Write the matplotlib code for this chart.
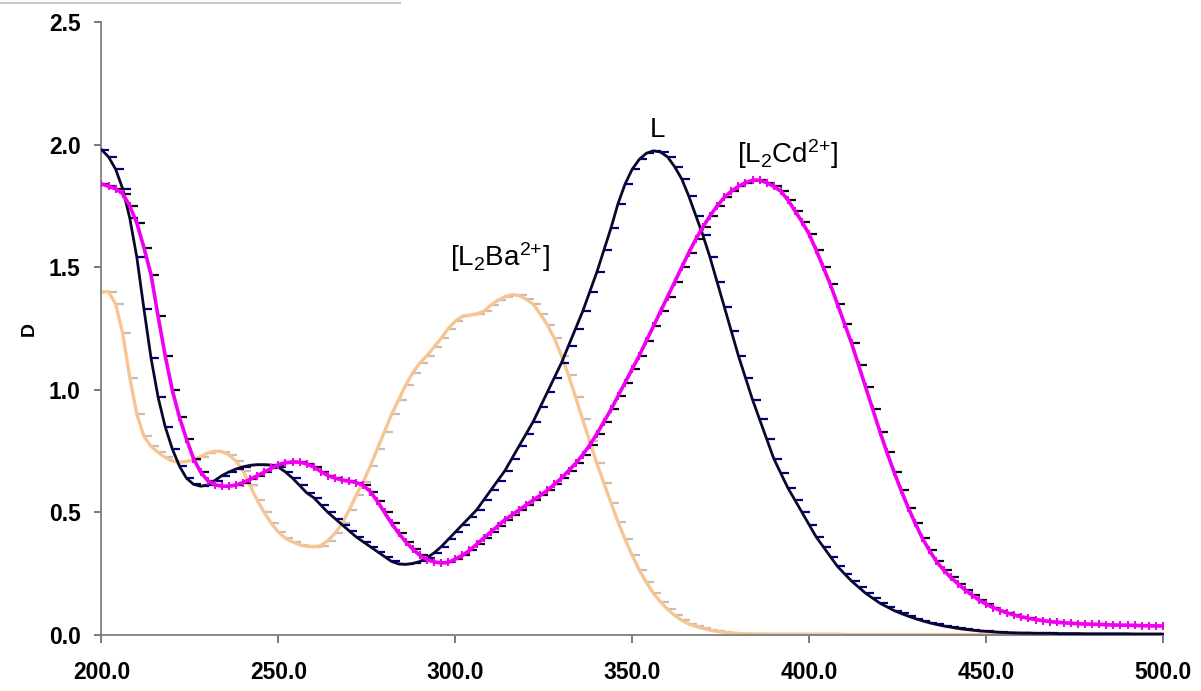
import matplotlib
matplotlib.use("Agg")
import matplotlib.pyplot as plt
import matplotlib.lines as mlines
from matplotlib.path import Path
import numpy as np

plt.rcParams['font.family'] = ['Liberation Sans', 'DejaVu Sans']
plt.rcParams['mathtext.default'] = 'regular'

# wavelength grid (nm), 2 nm steps
wavelength = list(range(200, 502, 2))

# L
absorb_L = [
    1.98, 1.95, 1.90, 1.82, 1.70, 1.54, 1.33, 1.13, 0.97, 0.85,    # 200-218
    0.76, 0.69, 0.64, 0.615, 0.607, 0.612, 0.63, 0.65, 0.665, 0.677,  # 220-238
    0.686, 0.692, 0.695, 0.695, 0.693, 0.685, 0.665, 0.64, 0.61, 0.58,  # 240-258
    0.56, 0.53, 0.50, 0.475, 0.45, 0.425, 0.40, 0.38, 0.36, 0.34,   # 260-278
    0.32, 0.30, 0.29, 0.288, 0.292, 0.30, 0.315, 0.335, 0.36, 0.39,  # 280-298
    0.42, 0.45, 0.48, 0.51, 0.55, 0.59, 0.63, 0.67, 0.72, 0.77,     # 300-318
    0.82, 0.87, 0.93, 0.99, 1.05, 1.11, 1.18, 1.25, 1.32, 1.40,     # 320-338
    1.48, 1.57, 1.66, 1.76, 1.84, 1.90, 1.94, 1.965, 1.975, 1.97,   # 340-358
    1.95, 1.91, 1.86, 1.79, 1.71, 1.63, 1.54, 1.44, 1.34, 1.24,     # 360-378
    1.14, 1.05, 0.96, 0.88, 0.80, 0.72, 0.66, 0.60, 0.55, 0.50,     # 380-398
    0.45, 0.40, 0.36, 0.32, 0.28, 0.25, 0.22, 0.195, 0.17, 0.15,    # 400-418
    0.13, 0.115, 0.10, 0.088, 0.077, 0.067, 0.058, 0.05, 0.043, 0.037,  # 420-438
    0.032, 0.027, 0.023, 0.02, 0.017, 0.015, 0.013, 0.011, 0.010, 0.009,  # 440-458
    0.008, 0.008, 0.007, 0.007, 0.007, 0.006, 0.006, 0.006, 0.006, 0.005,  # 460-478
    0.005, 0.005, 0.005, 0.005, 0.005, 0.005, 0.004, 0.004, 0.004, 0.004,  # 480-498
    0.004,                                                          # 500
]

# [L2Cd2+]
absorb_Cd = [
    1.84, 1.83, 1.82, 1.80, 1.75, 1.68, 1.58, 1.47, 1.30, 1.14,     # 200-218
    1.00, 0.89, 0.80, 0.72, 0.665, 0.63, 0.613, 0.607, 0.607, 0.612,  # 220-238
    0.622, 0.635, 0.65, 0.665, 0.68, 0.695, 0.703, 0.706, 0.705, 0.698,  # 240-258
    0.685, 0.667, 0.65, 0.64, 0.632, 0.627, 0.622, 0.61, 0.585, 0.545,  # 260-278
    0.50, 0.455, 0.415, 0.38, 0.35, 0.325, 0.308, 0.298, 0.294, 0.296,  # 280-298
    0.31, 0.325, 0.345, 0.37, 0.395, 0.42, 0.445, 0.47, 0.49, 0.51,  # 300-318
    0.53, 0.55, 0.57, 0.59, 0.615, 0.64, 0.67, 0.70, 0.735, 0.775,  # 320-338
    0.82, 0.87, 0.92, 0.975, 1.03, 1.085, 1.14, 1.20, 1.26, 1.32,   # 340-358
    1.38, 1.44, 1.50, 1.56, 1.615, 1.665, 1.71, 1.75, 1.785, 1.81,  # 360-378
    1.83, 1.845, 1.855, 1.855, 1.845, 1.83, 1.81, 1.775, 1.73, 1.685,  # 380-398
    1.635, 1.57, 1.50, 1.43, 1.35, 1.27, 1.19, 1.10, 1.01, 0.92,    # 400-418
    0.83, 0.745, 0.665, 0.59, 0.52, 0.455, 0.395, 0.345, 0.30, 0.265,  # 420-438
    0.235, 0.21, 0.185, 0.163, 0.143, 0.126, 0.112, 0.10, 0.09, 0.081,  # 440-458
    0.074, 0.068, 0.063, 0.059, 0.055, 0.052, 0.05, 0.048, 0.046, 0.045,  # 460-478
    0.044, 0.043, 0.042, 0.041, 0.04, 0.04, 0.039, 0.038, 0.038, 0.037,  # 480-498
    0.037,                                                          # 500
]

# [L2Ba2+]
absorb_Ba = [
    1.40, 1.40, 1.35, 1.23, 1.05, 0.90, 0.81, 0.77, 0.745, 0.725,   # 200-218
    0.71, 0.705, 0.708, 0.715, 0.728, 0.742, 0.75, 0.748, 0.735, 0.71,  # 220-238
    0.67, 0.61, 0.55, 0.50, 0.455, 0.42, 0.395, 0.38, 0.368, 0.362,  # 240-258
    0.36, 0.365, 0.385, 0.415, 0.455, 0.51, 0.57, 0.625, 0.69, 0.76,  # 260-278
    0.83, 0.90, 0.96, 1.02, 1.07, 1.11, 1.14, 1.175, 1.21, 1.25,    # 280-298
    1.28, 1.30, 1.305, 1.31, 1.32, 1.345, 1.365, 1.38, 1.388, 1.385,  # 300-318
    1.37, 1.35, 1.31, 1.265, 1.21, 1.14, 1.06, 0.97, 0.88, 0.79,    # 320-338
    0.70, 0.62, 0.54, 0.46, 0.39, 0.325, 0.265, 0.215, 0.17, 0.135,  # 340-358
    0.105, 0.08, 0.06, 0.045, 0.035, 0.027, 0.02, 0.015, 0.011, 0.008,  # 360-378
    0.006, 0.005, 0.004, 0.004, 0.004, 0.003, 0.003, 0.003, 0.003, 0.003,  # 380-398
    0.003, 0.003, 0.003, 0.003, 0.003, 0.002, 0.002, 0.002, 0.002, 0.002,  # 400-418
    0.002, 0.002, 0.002, 0.002, 0.002, 0.002, 0.002, 0.002, 0.002, 0.002,  # 420-438
    0.002, 0.002, 0.002, 0.002, 0.002, 0.002, 0.002, 0.002, 0.002, 0.002,  # 440-458
    0.002, 0.002, 0.002, 0.002, 0.002, 0.002, 0.002, 0.002, 0.002, 0.002,  # 460-478
    0.002, 0.002, 0.002, 0.002, 0.002, 0.002, 0.002, 0.002, 0.002, 0.002,  # 480-498
    0.002,                                                          # 500
]

x_ticks = [200, 250, 300, 350, 400, 450, 500]
y_ticks = [0.0, 0.5, 1.0, 1.5, 2.0, 2.5]

# dash that starts on the point and runs to the right (excel style marker)
dash_right = Path([(0, 0), (1, 0)], [Path.MOVETO, Path.LINETO])


def plot_curve(ax, x, y, line_color, dash_color, lw, z, plus_color=None):
    ax.plot(x, y, linestyle="none", marker=dash_right, markersize=11.5,
            markeredgecolor=dash_color, markerfacecolor="none",
            markeredgewidth=1.6, zorder=z)
    ax.plot(x, y, color=line_color, linewidth=lw, zorder=z + 0.5,
            solid_capstyle="round")
    if plus_color:
        ax.plot(x, y, linestyle="none", marker="|", markersize=5.5,
                markeredgecolor=plus_color, markeredgewidth=1.5, zorder=z + 0.6)


fig = plt.figure(figsize=(12.01, 6.91), dpi=100)
ax = fig.add_axes([0.0845, 0.081, 0.8838, 0.887])

plot_curve(ax, wavelength, absorb_Ba, "#f7c594", "#c9bdb0", 2.4, 2)
plot_curve(ax, wavelength, absorb_L, "#08082e", "#000080", 2.0, 3)
plot_curve(ax, wavelength, absorb_Cd, "#f000f0", "#1a001a", 2.6, 4, plus_color="#f000f0")

ax.set_xlim(200, 500)
ax.set_ylim(0, 2.5)
ax.set_xticks(x_ticks)
ax.set_yticks(y_ticks)
ax.set_xticklabels(["%.1f" % v for v in x_ticks])
ax.set_yticklabels(["%.1f" % v for v in y_ticks])

for side in ["top", "right"]:
    ax.spines[side].set_visible(False)
for side in ["left", "bottom"]:
    ax.spines[side].set_color("#7f7f7f")
    ax.spines[side].set_linewidth(1.3)

ax.tick_params(axis="x", direction="out", length=6, width=1.1, color="#555555",
               pad=13, labelsize=16.5)
ax.tick_params(axis="y", direction="out", length=5, width=1.1, color="#555555",
               pad=10, labelsize=16.5)
for lab in ax.get_xticklabels() + ax.get_yticklabels():
    lab.set_fontweight("bold")

ax.set_ylabel("D", fontsize=14, fontweight="bold")
ax.yaxis.set_label_coords(-0.060, 0.5)

ax.text(357.2, 2.06, "L", fontsize=20, ha="center", va="center")
ax.text(393.9, 1.96, r"[L$_2$Cd$^{2{+}}$]", fontsize=20, ha="center", va="center")
ax.text(312.6, 1.54, r"[L$_2$Ba$^{2{+}}$]", fontsize=20, ha="center", va="center")

# grey edge of a box cut off at the top of the picture
fig.add_artist(mlines.Line2D([0, 400 / 1201], [1 - 3 / 691, 1 - 3 / 691],
                             color="#c8c8c8", linewidth=1.5))

fig.savefig("out.png", dpi=100)
